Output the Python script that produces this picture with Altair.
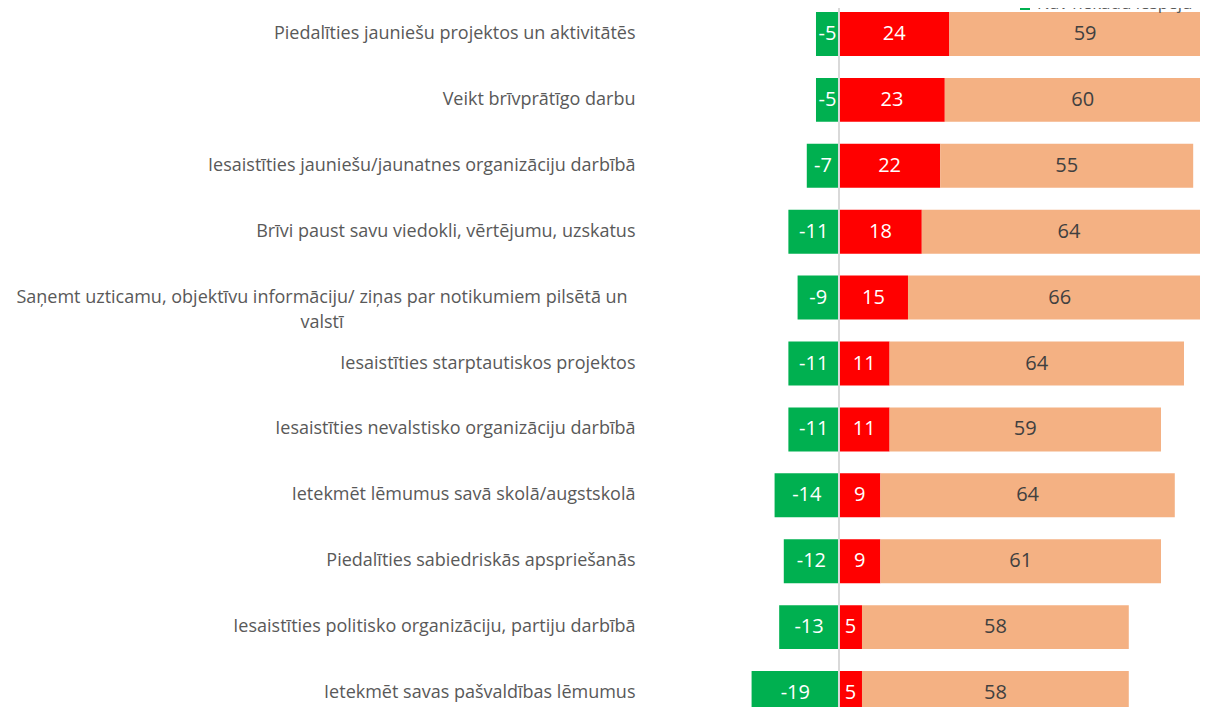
import altair as alt
import pandas as pd

categories = [
    "Piedalīties jauniešu projektos un aktivitātēs",
    "Veikt brīvprātīgo darbu",
    "Iesaistīties jauniešu/jaunatnes organizāciju darbībā",
    "Brīvi paust savu viedokli, vērtējumu, uzskatus",
    "Saņemt uzticamu, objektīvu informāciju/ ziņas par notikumiem pilsētā un valstī",
    "Iesaistīties starptautiskos projektos",
    "Iesaistīties nevalstisko organizāciju darbībā",
    "Ietekmēt lēmumus savā skolā/augstskolā",
    "Piedalīties sabiedriskās apspriešanās",
    "Iesaistīties politisko organizāciju, partiju darbībā",
    "Ietekmēt savas pašvaldības lēmumus",
]
green_vals = [-5, -5, -7, -11, -9, -11, -11, -14, -12, -13, -19]
red_vals = [24, 23, 22, 18, 15, 11, 11, 9, 9, 5, 5]
peach_vals = [59, 60, 55, 64, 66, 64, 59, 64, 61, 58, 58]
series_names = ["Nav nekādu iespēju", "Mazas iespējas", "Citas iespējas"]
series_colors = ["#00B050", "#FF0000", "#F4B183"]
text_colors = ["#FFFFFF", "#FFFFFF", "#404040"]
long_label_lines = ["Saņemt uzticamu, objektīvu informāciju/ ziņas par notikumiem pilsētā un", "valstī"]
legend_label = "Nav nekādu iespēju"

rows = []
for i, c in enumerate(categories):
    g, r, p = green_vals[i], red_vals[i], peach_vals[i]
    segs = [(0, g, g), (0, r, r), (r, r + p, p)]
    for k, (a, b, v) in enumerate(segs):
        rows.append({"cat": c, "series": series_names[k], "x0": a, "x1": b,
                     "lbl": str(v), "fill": series_colors[k], "tc": text_colors[k]})
df = pd.DataFrame(rows)

W, H = 555, 699
yscale = alt.Scale(domain=categories, range=[4, 707], paddingInner=0.333, paddingOuter=0)
xscale = alt.Scale(domain=[-42.17, 78.48], nice=False, zero=False)
FONT = "Open Sans"
LBL_SIZE = 18

base = alt.Chart(df)
yenc = alt.Y("cat:N", sort=categories, scale=yscale,
             axis=alt.Axis(title=None, ticks=False, domain=False, labelPadding=10,
                           labelFontSize=LBL_SIZE, labelColor="#595959", labelFont=FONT,
                           labelLimit=700, grid=False,
                           labelExpr="indexof(datum.value, 'Saņemt') == 0 ? '' : datum.value"))

bars = base.mark_bar(clip=True).encode(
    y=yenc,
    x=alt.X("x0:Q", scale=xscale, axis=None),
    x2="x1:Q",
    color=alt.Color("fill:N", scale=None),
)

labels = base.mark_text(fontSize=20, font=FONT, baseline="middle", align="center").transform_calculate(
    mid="(datum.x0 + datum.x1) / 2"
).encode(
    y=alt.Y("cat:N", sort=categories, scale=yscale),
    x=alt.X("mid:Q", scale=xscale),
    text=alt.Text("lbl:N"),
    color=alt.Color("tc:N", scale=None),
)

zero_rule = alt.Chart(pd.DataFrame({"z": [0]})).mark_rule(color="#d9d9d9", strokeWidth=2).encode(
    x=alt.X("z:Q", scale=xscale),
    y=alt.value(0),
    y2=alt.value(H),
)

long_df = pd.DataFrame({"cat": [categories[4]], "label": ["\n".join(long_label_lines)]})
long_text = alt.Chart(long_df).mark_text(
    align="center", baseline="middle", lineBreak="\n", lineHeight=25,
    fontSize=LBL_SIZE, font=FONT, color="#595959"
).encode(
    y=alt.Y("cat:N", sort=categories, scale=yscale),
    x=alt.value(-323),
    text="label:N",
)

leg_df = pd.DataFrame({"label": [legend_label], "fill": [series_colors[0]]})
leg_sq = alt.Chart(leg_df).mark_square(size=100, opacity=1).encode(
    x=alt.value(380), y=alt.value(-3), color=alt.Color("fill:N", scale=None)
)
leg_txt = alt.Chart(leg_df).mark_text(
    align="left", baseline="alphabetic", fontSize=17, font=FONT, color="#595959"
).encode(x=alt.value(392), y=alt.value(1), text="label:N")

chart = alt.layer(bars, labels, zero_rule, long_text, leg_sq, leg_txt).properties(
    width=W, height=H,
    autosize=alt.AutoSizeParams(type="none"),
    padding={"left": 637, "top": 0, "right": 0, "bottom": 0},
).configure_view(stroke=None)

chart.save("out.html", embed_options={"renderer": "svg", "actions": False})
